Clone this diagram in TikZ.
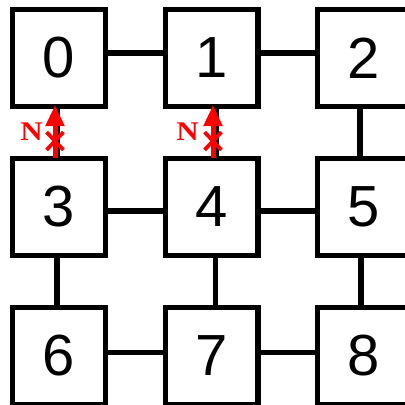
\documentclass[tikz,border=0pt]{standalone}
\usepackage{fontspec}
\setmainfont{Liberation Sans}
\newfontfamily\serifN{Liberation Serif}
\usetikzlibrary{arrows.meta,shapes.misc}
\tikzset{
  cell/.style={draw=black, line width=5.3pt, fill=white, minimum width=92.7pt, minimum height=96.7pt, inner sep=0pt,
    font=\fontsize{58}{60}\selectfont},
  link/.style={draw=black, line width=5.3pt},
  blocked/.style={draw=red, line width=5pt, -{Triangle[length=21pt,width=18pt]}},
  xmark/.style={cross out, draw=red, line width=3.8pt, minimum width=13pt, minimum height=14pt, inner sep=0pt},
  nlabel/.style={text=red, inner sep=0pt, font=\serifN\bfseries\fontsize{27}{29}\selectfont}
}
\begin{document}
\begin{tikzpicture}[x=1pt,y=-1pt]
\clip (0,0) rectangle (405,405);
\fill[white] (0,0) rectangle (405,405);
\coordinate (c0) at (59,58);
\coordinate (c1) at (211.5,58);
\coordinate (c2) at (364,58);
\coordinate (c3) at (59,207);
\coordinate (c4) at (211.5,207);
\coordinate (c5) at (364,207);
\coordinate (c6) at (59,356);
\coordinate (c7) at (211.5,356);
\coordinate (c8) at (364,356);
\node[cell] (n0) at (c0) {0};
\node[cell] (n1) at (c1) {1};
\node[cell] (n2) at (c2) {2};
\node[cell] (n3) at (c3) {3};
\node[cell] (n4) at (c4) {4};
\node[cell] (n5) at (c5) {5};
\node[cell] (n6) at (c6) {6};
\node[cell] (n7) at (c7) {7};
\node[cell] (n8) at (c8) {8};
% horizontal links
\draw[link] ([yshift=5pt]n0.east) -- ([yshift=5pt]n1.west);
\draw[link] ([yshift=5pt]n1.east) -- ([yshift=5pt]n2.west);
\draw[link] ([yshift=-4pt]n3.east) -- ([yshift=-4pt]n4.west);
\draw[link] ([yshift=-4pt]n4.east) -- ([yshift=-4pt]n5.west);
\draw[link] ([yshift=3.5pt]n6.east) -- ([yshift=3.5pt]n7.west);
\draw[link] ([yshift=3.5pt]n7.east) -- ([yshift=3.5pt]n8.west);
% vertical links
\draw[link] ([xshift=-2pt]n0.south) -- ([xshift=-2pt]n3.north);
\draw[link] ([xshift=5pt]n1.south) -- ([xshift=5pt]n4.north);
\draw[link] ([xshift=-4pt]n2.south) -- ([xshift=-4pt]n5.north);
\draw[link] ([xshift=-2pt]n3.south) -- ([xshift=-2pt]n6.north);
\draw[link] ([xshift=4pt]n4.south) -- ([xshift=4pt]n7.north);
\draw[link] ([xshift=-3pt]n5.south) -- ([xshift=-3pt]n8.north);
% blocked moves
\draw[blocked] ([xshift=-4pt,yshift=-2pt]n3.north) -- ([xshift=-4pt,yshift=4pt]n0.south);
\draw[blocked] ([xshift=1.5pt,yshift=-2pt]n4.north) -- ([xshift=1.5pt,yshift=4pt]n1.south);
\node[xmark] (x0) at (55,141) {};
\node[xmark] (x1) at (213,141) {};
\node[nlabel] (l0) at (31.5,132) {\scalebox{1.15}[1]{N}};
\node[nlabel] (l1) at (187.5,132) {\scalebox{1.15}[1]{N}};
\end{tikzpicture}
\end{document}
